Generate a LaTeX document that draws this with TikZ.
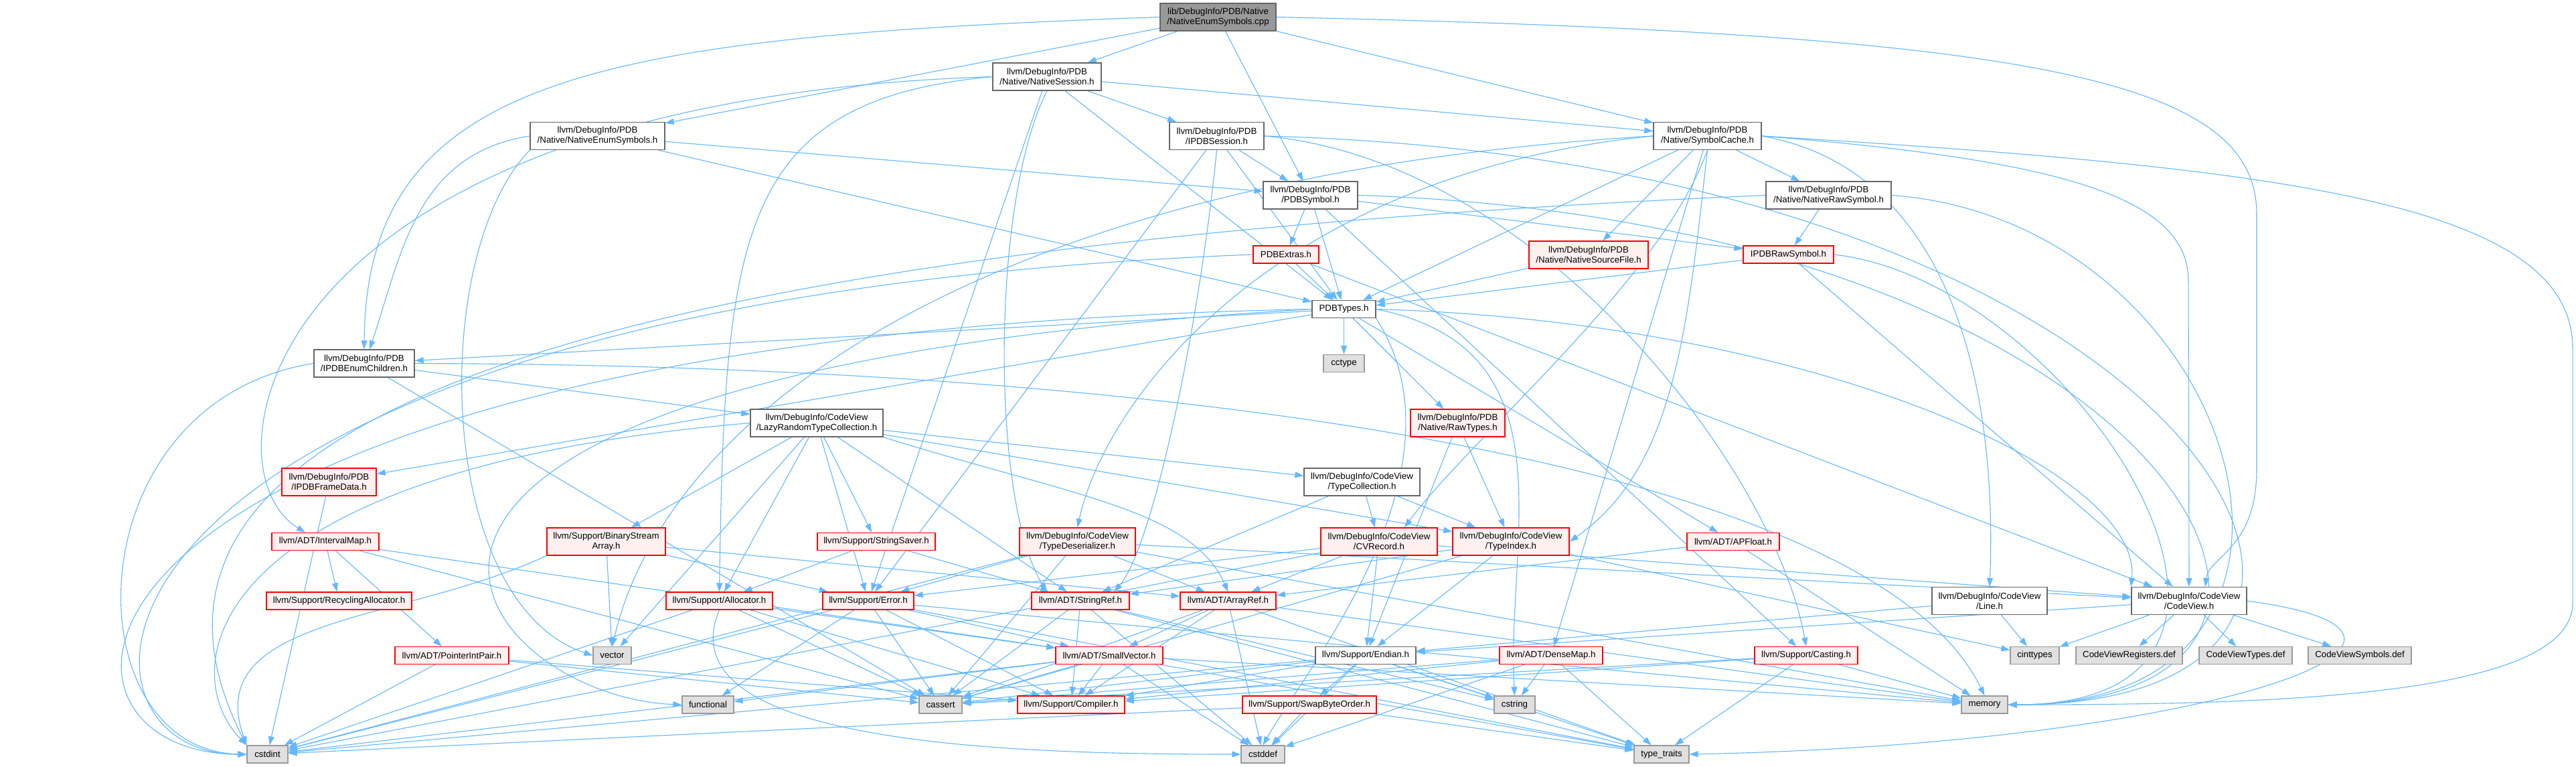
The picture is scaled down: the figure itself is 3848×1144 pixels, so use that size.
\documentclass[tikz,border=0pt]{standalone}
\usepackage{fontspec}
\setmainfont{Liberation Sans}
\usepackage{xcolor}
\usepackage{tikz}
\usetikzlibrary{arrows.meta,backgrounds}
\definecolor{edgeblue}{HTML}{63B8FF}
\definecolor{hdrborder}{HTML}{666666}
\definecolor{trunfill}{HTML}{FFF0F0}
\definecolor{sysfill}{HTML}{E0E0E0}
\definecolor{sysborder}{HTML}{999999}
\definecolor{rootfill}{HTML}{999999}
\newcommand{\dgfont}{\fontsize{13.3}{15}\selectfont}

\begin{document}
\begin{tikzpicture}[
  x=1pt, y=-1pt,
  box/.style={draw, align=center, inner sep=0pt, line width=1.3pt, font=\dgfont},
  one/.style={minimum height=26pt},
  two/.style={minimum height=41pt},
  hbox/.style={box, draw=hdrborder, fill=white},
  tbox/.style={box, draw=red, fill=trunfill},
  sbox/.style={box, draw=sysborder, fill=sysfill},
  rootbox/.style={box, draw=hdrborder, fill=rootfill},
  incl/.style={-{Triangle[length=13pt,width=9pt]}, draw=edgeblue, line width=1.1pt}
]
\useasboundingbox (0,0) rectangle (3848,1144);

\node[rootbox, two, minimum width=173pt] (root) at (1819.5,25.5) {lib/DebugInfo/PDB/Native\\/NativeEnumSymbols.cpp};
\node[hbox, two, minimum width=162pt] (nsession) at (1564,114.5) {llvm/DebugInfo/PDB\\/Native/NativeSession.h};
\node[hbox, two, minimum width=201pt] (nenumsym) at (892.5,203) {llvm/DebugInfo/PDB\\/Native/NativeEnumSymbols.h};
\node[hbox, two, minimum width=141pt] (ipdbsession) at (1817.5,203) {llvm/DebugInfo/PDB\\/IPDBSession.h};
\node[hbox, two, minimum width=161pt] (symcache) at (2550.5,203) {llvm/DebugInfo/PDB\\/Native/SymbolCache.h};
\node[hbox, two, minimum width=141pt] (pdbsymbol) at (1957.5,291.5) {llvm/DebugInfo/PDB\\/PDBSymbol.h};
\node[hbox, two, minimum width=187pt] (nrawsymbol) at (2731.5,291.5) {llvm/DebugInfo/PDB\\/Native/NativeRawSymbol.h};
\node[tbox, one, minimum width=98pt] (pdbextras) at (1921,380) {PDBExtras.h};
\node[tbox, two, minimum width=178pt] (nsourcefile) at (2373,380.5) {llvm/DebugInfo/PDB\\/Native/NativeSourceFile.h};
\node[tbox, one, minimum width=135pt] (ipdbrawsymbol) at (2671.5,380) {IPDBRawSymbol.h};
\node[hbox, one, minimum width=95pt] (pdbtypes) at (2007.5,461.5) {PDBTypes.h};
\node[hbox, two, minimum width=150pt] (ipdbenumchildren) at (544,542.5) {llvm/DebugInfo/PDB\\/IPDBEnumChildren.h};
\node[sbox, one, minimum width=61pt] (cctype) at (2007.5,542.5) {cctype};
\node[hbox, two, minimum width=198pt] (lazyrtc) at (1220,631.5) {llvm/DebugInfo/CodeView\\/LazyRandomTypeCollection.h};
\node[tbox, two, minimum width=141pt] (rawtypes) at (2177.5,631.5) {llvm/DebugInfo/PDB\\/Native/RawTypes.h};
\node[tbox, two, minimum width=141pt] (ipdbframedata) at (491.5,719.5) {llvm/DebugInfo/PDB\\/IPDBFrameData.h};
\node[hbox, two, minimum width=173pt] (typecollection) at (2034.5,719.5) {llvm/DebugInfo/CodeView\\/TypeCollection.h};
\node[tbox, one, minimum width=160pt] (intervalmap) at (486,808.5) {llvm/ADT/IntervalMap.h};
\node[tbox, two, minimum width=177pt] (binstreamarray) at (905.5,808.5) {llvm/Support/BinaryStream\\Array.h};
\node[tbox, one, minimum width=176pt] (stringsaver) at (1309,808.5) {llvm/Support/StringSaver.h};
\node[tbox, two, minimum width=173pt] (typedeser) at (1609.5,808.5) {llvm/DebugInfo/CodeView\\/TypeDeserializer.h};
\node[tbox, two, minimum width=174pt] (cvrecord) at (2060,808.5) {llvm/DebugInfo/CodeView\\/CVRecord.h};
\node[tbox, two, minimum width=174pt] (typeindex) at (2257,808.5) {llvm/DebugInfo/CodeView\\/TypeIndex.h};
\node[tbox, one, minimum width=138pt] (apfloat) at (2589,808.5) {llvm/ADT/APFloat.h};
\node[tbox, one, minimum width=217pt] (recyclingalloc) at (506.5,897) {llvm/Support/RecyclingAllocator.h};
\node[tbox, one, minimum width=159pt] (allocator) at (1074.5,897) {llvm/Support/Allocator.h};
\node[tbox, one, minimum width=136pt] (error) at (1297,897) {llvm/Support/Error.h};
\node[tbox, one, minimum width=146pt] (stringref) at (1614,897) {llvm/ADT/StringRef.h};
\node[tbox, one, minimum width=143pt] (arrayref) at (1834.5,897) {llvm/ADT/ArrayRef.h};
\node[hbox, two, minimum width=172pt] (line) at (2972,897) {llvm/DebugInfo/CodeView\\/Line.h};
\node[hbox, two, minimum width=172pt] (codeview) at (3270,897) {llvm/DebugInfo/CodeView\\/CodeView.h};
\node[tbox, one, minimum width=170pt] (pointerintpair) at (675,978.5) {llvm/ADT/PointerIntPair.h};
\node[sbox, one, minimum width=57pt] (vector) at (914.5,978.5) {vector};
\node[tbox, one, minimum width=160pt] (smallvector) at (1657,978.5) {llvm/ADT/SmallVector.h};
\node[hbox, one, minimum width=150pt] (endian) at (2040,978.5) {llvm/Support/Endian.h};
\node[tbox, one, minimum width=154pt] (densemap) at (2317,978.5) {llvm/ADT/DenseMap.h};
\node[tbox, one, minimum width=154pt] (casting) at (2698,978.5) {llvm/Support/Casting.h};
\node[sbox, one, minimum width=73pt] (cinttypes) at (3039.5,978.5) {cinttypes};
\node[sbox, one, minimum width=159pt] (cvregisters) at (3180.5,978.5) {CodeViewRegisters.def};
\node[sbox, one, minimum width=139pt] (cvtypes) at (3354.5,978.5) {CodeViewTypes.def};
\node[sbox, one, minimum width=154pt] (cvsymbols) at (3525,978.5) {CodeViewSymbols.def};
\node[sbox, one, minimum width=77pt] (functional) at (1057.5,1052) {functional};
\node[sbox, one, minimum width=64pt] (cassert) at (1405,1052) {cassert};
\node[tbox, one, minimum width=160pt] (compiler) at (1600,1052) {llvm/Support/Compiler.h};
\node[tbox, one, minimum width=200pt] (swapbyteorder) at (1956,1052) {llvm/Support/SwapByteOrder.h};
\node[sbox, one, minimum width=61pt] (cstring) at (2262.5,1052) {cstring};
\node[sbox, one, minimum width=69pt] (memory) at (2964.5,1052) {memory};
\node[sbox, one, minimum width=61pt] (cstdint) at (399.5,1126) {cstdint};
\node[sbox, one, minimum width=65pt] (cstddef) at (1886.5,1126) {cstddef};
\node[sbox, one, minimum width=82pt] (typetraits) at (2482,1126) {type\_traits};

\begin{scope}[on background layer]
\fill[white] (0,0) rectangle (3848,1144);
\draw[incl] (root) -- (nenumsym);
\draw[incl] (root) -- (nsession);
\draw[incl] (root) -- (symcache);
\draw[incl] (root) -- (pdbsymbol);
\draw[incl] (root.west) .. controls (900,55) and (547,110) .. (ipdbenumchildren.north);
\draw[incl] (root.east) .. controls (3050,50) and (3371,120) .. (3371,320) -- (3371,700) .. controls (3371,820) and (3300,830) .. ([xshift=24pt]codeview.north);
\draw[incl] (nenumsym.west) .. controls (620,230) and (600,380) .. ([xshift=8pt]ipdbenumchildren.north);
\draw[incl] (nenumsym) -- (pdbsymbol);
\draw[incl] (nenumsym) -- (pdbtypes);
\draw[incl] (nenumsym.south west) .. controls (640,380) and (650,900) .. (vector.west);
\draw[incl] (nsession) -- (ipdbsession);
\draw[incl] (nsession) -- (symcache);
\draw[incl] (nsession) -- (pdbtypes);
\draw[incl] (nsession) -- (error);
\draw[incl] (nsession.west) .. controls (380,150) and (300,700) .. ([xshift=-30pt]intervalmap.north);
\draw[incl] (nsession.west) .. controls (1100,150) and (1083,350) .. (allocator.north);
\draw[incl] (nsession.south) .. controls (1480,300) and (1480,750) .. ([xshift=-50pt]stringref.north);
\draw[incl] (ipdbsession) -- (pdbsymbol);
\draw[incl] (ipdbsession) -- (pdbtypes);
\draw[incl] (ipdbsession) -- (error);
\draw[incl] (ipdbsession.south) .. controls (1790,500) and (1720,820) .. ([xshift=50pt]stringref.north);
\draw[incl] (ipdbsession.east) .. controls (2300,240) and (2650,700) .. (casting.north);
\draw[incl] (ipdbsession.east) .. controls (3300,240) and (3720,1052) .. (memory.east);
\draw[incl] (symcache) -- (nrawsymbol);
\draw[incl] (symcache) -- (nsourcefile);
\draw[incl] (symcache) -- (pdbtypes);
\draw[incl] (symcache) -- (densemap);
\draw[incl] (symcache.south) .. controls (2480,420) and (2200,650) .. ([xshift=38pt]cvrecord.north);
\draw[incl] (symcache.south) .. controls (2520,500) and (2500,700) .. (typeindex.east);
\draw[incl] (symcache.west) .. controls (1900,260) and (1650,600) .. (typedeser.north);
\draw[incl] (symcache.west) .. controls (1500,260) and (1000,600) .. (vector.north);
\draw[incl] (symcache.east) .. controls (3100,240) and (3269,300) .. (3269,420) -- (codeview.north);
\draw[incl] (symcache.east) .. controls (2900,250) and (2985,550) .. (line.north);
\draw[incl] (symcache.east) .. controls (3400,250) and (3843,300) .. (3843,520) -- (3843,900) .. controls (3843,1040) and (3400,1052) .. (memory.east);
\draw[incl] (pdbsymbol) -- (pdbextras);
\draw[incl] (pdbsymbol) -- (pdbtypes);
\draw[incl] (pdbsymbol) -- (ipdbrawsymbol);
\draw[incl] (pdbsymbol) -- (casting);
\draw[incl] (pdbsymbol.east) .. controls (3250,330) and (3620,1052) .. (memory.east);
\draw[incl] (nrawsymbol) -- (ipdbrawsymbol);
\draw[incl] (nrawsymbol.west) .. controls (600,380) and (158,700) .. (cstdint.north west);
\draw[incl] (nrawsymbol.east) .. controls (3350,330) and (3560,1052) .. (memory.east);
\draw[incl] (pdbextras) -- (pdbtypes);
\draw[incl] (pdbextras) -- (codeview);
\draw[incl] (pdbextras.west) .. controls (60,450) and (56,1126) .. (cstdint.west);
\draw[incl] (nsourcefile) -- (pdbtypes);
\draw[incl] (ipdbrawsymbol) -- (pdbtypes);
\draw[incl] (ipdbrawsymbol) -- (codeview);
\draw[incl] (ipdbrawsymbol.east) .. controls (3100,420) and (3500,1052) .. (memory.east);
\draw[incl] (pdbtypes) -- (cctype);
\draw[incl] (pdbtypes) -- (rawtypes);
\draw[incl] (pdbtypes) -- (ipdbenumchildren);
\draw[incl] (pdbtypes) -- (ipdbframedata);
\draw[incl] (pdbtypes) -- (apfloat);
\draw[incl] (pdbtypes.east) .. controls (2700,480) and (3200,700) .. (codeview.north west);
\draw[incl] (pdbtypes.east) .. controls (2350,520) and (2250,800) .. (cstring.north);
\draw[incl] (pdbtypes.south east) .. controls (2200,700) and (1950,1000) .. (cstddef.north);
\draw[incl] (pdbtypes.west) .. controls (300,560) and (700,1040) .. (functional.west);
\draw[incl] (pdbtypes.west) .. controls (20,500) and (6,1126) .. (cstdint.west);
\draw[incl] (ipdbenumchildren) -- (lazyrtc);
\draw[incl] (ipdbenumchildren) -- (cassert);
\draw[incl] (ipdbenumchildren.east) .. controls (1800,545) and (2800,700) .. (memory.north);
\draw[incl] (ipdbenumchildren.west) .. controls (106,600) and (106,1120) .. (cstdint.west);
\draw[incl] (lazyrtc) -- (binstreamarray);
\draw[incl] (lazyrtc) -- (allocator);
\draw[incl] (lazyrtc) -- (error);
\draw[incl] (lazyrtc) -- (stringsaver);
\draw[incl] (lazyrtc) -- (stringref);
\draw[incl] (lazyrtc) -- (typecollection);
\draw[incl] (lazyrtc) -- (typeindex);
\draw[incl] (lazyrtc) -- (vector);
\draw[incl] (lazyrtc.south east) .. controls (1600,740) and (1780,760) .. (arrayref.north);
\draw[incl] (lazyrtc.west) .. controls (300,700) and (259,1000) .. (cstdint.north west);
\draw[incl] (rawtypes) -- (endian);
\draw[incl] (rawtypes) -- (typeindex);
\draw[incl] (ipdbframedata) -- (cstdint);
\draw[incl] (typecollection) -- (stringref);
\draw[incl] (typecollection) -- (cvrecord);
\draw[incl] (typecollection) -- (typeindex);
\draw[incl] (intervalmap) -- (recyclingalloc);
\draw[incl] (intervalmap) -- (pointerintpair);
\draw[incl] (intervalmap) -- (smallvector);
\draw[incl] (intervalmap) -- (cassert);
\draw[incl] (binstreamarray) -- (error);
\draw[incl] (binstreamarray) -- (vector);
\draw[incl] (binstreamarray) -- (arrayref);
\draw[incl] (binstreamarray.south west) .. controls (600,930) and (300,920) .. (cstdint.north west);
\draw[incl] (stringsaver) -- (allocator);
\draw[incl] (stringsaver) -- (stringref);
\draw[incl] (typedeser) -- (error);
\draw[incl] (typedeser) -- (arrayref);
\draw[incl] (typedeser) -- (cassert);
\draw[incl] (typedeser) -- (codeview);
\draw[incl] (typedeser) -- (memory);
\draw[incl] (typedeser) -- (cstdint);
\draw[incl] (cvrecord) -- (endian);
\draw[incl] (cvrecord) -- (arrayref);
\draw[incl] (cvrecord) -- (error);
\draw[incl] (cvrecord) -- (codeview);
\draw[incl] (cvrecord) -- (cstdint);
\draw[incl] (typeindex) -- (endian);
\draw[incl] (typeindex) -- (cinttypes);
\draw[incl] (typeindex) -- (cassert);
\draw[incl] (typeindex) -- (stringref);
\draw[incl] (apfloat) -- (arrayref);
\draw[incl] (apfloat) -- (memory);
\draw[incl] (allocator) -- (cassert);
\draw[incl] (allocator) -- (compiler);
\draw[incl] (allocator) -- (smallvector);
\draw[incl] (allocator) -- (cstdint);
\draw[incl] (allocator.south) .. controls (990,1110) and (1500,1126) .. (cstddef.west);
\draw[incl] (error) -- (compiler);
\draw[incl] (error) -- (smallvector);
\draw[incl] (error) -- (cassert);
\draw[incl] (error) -- (functional);
\draw[incl] (error) -- (cstdint);
\draw[incl] (error) -- (memory);
\draw[incl] (error) -- (typetraits);
\draw[incl] (stringref) -- (compiler);
\draw[incl] (stringref) -- (cassert);
\draw[incl] (stringref) -- (cstddef);
\draw[incl] (stringref) -- (cstring);
\draw[incl] (stringref) -- (typetraits);
\draw[incl] (arrayref) -- (smallvector);
\draw[incl] (arrayref) -- (compiler);
\draw[incl] (arrayref) -- (cassert);
\draw[incl] (arrayref) -- (cstddef);
\draw[incl] (arrayref) -- (memory);
\draw[incl] (arrayref) -- (typetraits);
\draw[incl] (line) -- (cinttypes);
\draw[incl] (line) -- (endian);
\draw[incl] (codeview) -- (cinttypes);
\draw[incl] (codeview) -- (cvregisters);
\draw[incl] (codeview) -- (cvtypes);
\draw[incl] (codeview) -- (cvsymbols);
\draw[incl] (codeview) -- (endian);
\draw[incl] (codeview.east) .. controls (3750,950) and (3300,1110) .. (typetraits.east);
\draw[incl] (pointerintpair) -- (cstdint);
\draw[incl] (pointerintpair) -- (compiler);
\draw[incl] (pointerintpair) -- (cassert);
\draw[incl] (smallvector) -- (compiler);
\draw[incl] (smallvector) -- (cassert);
\draw[incl] (smallvector) -- (cstddef);
\draw[incl] (smallvector) -- (cstdint);
\draw[incl] (smallvector) -- (functional);
\draw[incl] (smallvector) -- (memory);
\draw[incl] (smallvector) -- (typetraits);
\draw[incl] (endian) -- (swapbyteorder);
\draw[incl] (endian) -- (compiler);
\draw[incl] (endian) -- (cassert);
\draw[incl] (endian) -- (cstddef);
\draw[incl] (endian) -- (cstdint);
\draw[incl] (endian) -- (cstring);
\draw[incl] (endian) -- (typetraits);
\draw[incl] (densemap) -- (compiler);
\draw[incl] (densemap) -- (cassert);
\draw[incl] (densemap) -- (cstddef);
\draw[incl] (densemap) -- (cstring);
\draw[incl] (densemap) -- (typetraits);
\draw[incl] (casting) -- (typetraits);
\draw[incl] (casting) -- (memory);
\draw[incl] (casting) -- (cassert);
\draw[incl] (casting) -- (compiler);
\draw[incl] (swapbyteorder) -- (cstddef);
\draw[incl] (swapbyteorder) -- (cstdint);
\draw[incl] (swapbyteorder) -- (typetraits);
\end{scope}
\end{tikzpicture}
\end{document}
